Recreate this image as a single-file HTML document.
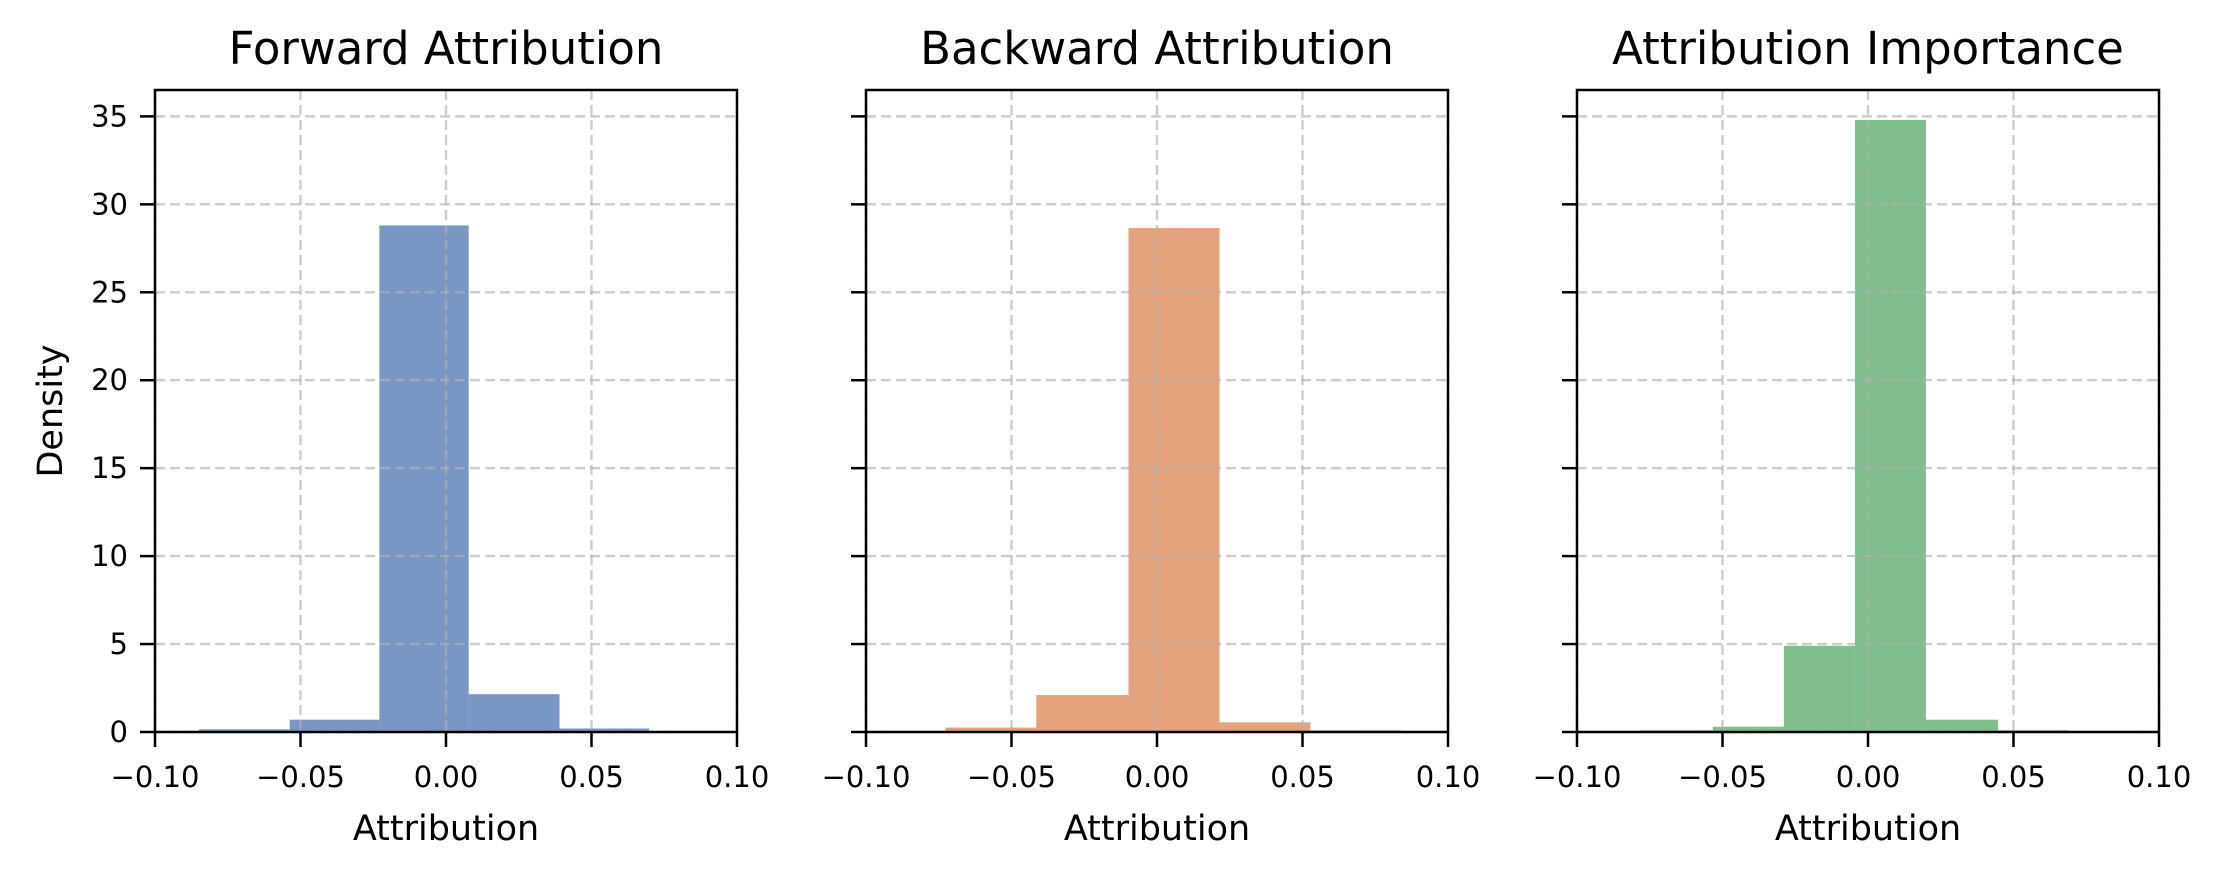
<!DOCTYPE html>
<html><head><meta charset="utf-8"><style>
html,body{margin:0;padding:0;background:#fff;}
svg{display:block;font-family:"DejaVu Sans","Liberation Sans",sans-serif;}
</style></head><body>
<svg id="fig" width="2226" height="877" viewBox="0 0 2226 877" xmlns="http://www.w3.org/2000/svg"></svg>
<script>
const panelTitles = ["Forward Attribution", "Backward Attribution", "Attribution Importance"];
const fwdEdges = [-0.0849, -0.0537, -0.0229, 0.0078, 0.0390, 0.0698];
const fwdHeights = [0.15, 0.7, 28.8, 2.15, 0.2];
const bwdEdges = [-0.0727, -0.0415, -0.0098, 0.0215, 0.0527, 0.0839];
const bwdHeights = [0.25, 2.1, 28.65, 0.55, 0.1];
const impEdges = [-0.0782, -0.0533, -0.0289, -0.0045, 0.0199, 0.0447, 0.0691];
const impHeights = [0.1, 0.3, 4.9, 34.8, 0.7, 0.1];
const xTicks = [-0.10, -0.05, 0.00, 0.05, 0.10];
const xTickLabels = ["\u22120.10", "\u22120.05", "0.00", "0.05", "0.10"];
const yTicks = [0, 5, 10, 15, 20, 25, 30, 35];
const yTickLabels = ["0", "5", "10", "15", "20", "25", "30", "35"];

const NS = "http://www.w3.org/2000/svg";
const svg = document.getElementById("fig");
const panelLefts = [155, 866, 1577];
const PW = 582, TOP = 90, BOT = 732;
const XMIN = -0.1, XMAX = 0.1, YMAX = 36.5;
const series = [
  {edges: fwdEdges, heights: fwdHeights, color: "#7a96c4", key: "forward"},
  {edges: bwdEdges, heights: bwdHeights, color: "#e4a27d", key: "backward"},
  {edges: impEdges, heights: impHeights, color: "#80be8e", key: "importance"}
];
function el(tag, attrs, parent) {
  const e = document.createElementNS(NS, tag);
  for (const k in attrs) e.setAttribute(k, attrs[k]);
  (parent || svg).appendChild(e);
  return e;
}
series.forEach((s, p) => {
  const L = panelLefts[p];
  const xs = v => L + (v - XMIN) / (XMAX - XMIN) * PW;
  const ys = v => BOT - v / YMAX * (BOT - TOP);
  const g = el("g", {});
  
  
  s.heights.forEach((h, i) => {
    const r = el("rect", {x: xs(s.edges[i]), y: ys(h), width: xs(s.edges[i+1]) - xs(s.edges[i]), height: BOT - ys(h), fill: s.color}, g);
    
    
  });
  xTicks.forEach(v => {
    const ln = el("line", {x1: xs(v), x2: xs(v), y1: TOP, y2: BOT, stroke: "#b0b0b0", "stroke-opacity": 0.65, "stroke-width": 2.4, "stroke-dasharray": "10,5"}, g);
    
    
  });
  yTicks.forEach(v => {
    const ln = el("line", {x1: L, x2: L + PW, y1: ys(v), y2: ys(v), stroke: "#b0b0b0", "stroke-opacity": 0.65, "stroke-width": 2.4, "stroke-dasharray": "10,5"}, g);
    
    
  });
  const fr = el("rect", {x: L, y: TOP, width: PW, height: BOT - TOP, fill: "none", stroke: "#000", "stroke-width": 2.5}, g);
  
  
  xTicks.forEach((v, i) => {
    el("line", {x1: xs(v), x2: xs(v), y1: BOT, y2: BOT + 15, stroke: "#000", "stroke-width": 2.5}, g);
    const t = el("text", {x: xs(v), y: 787, "text-anchor": "middle", "font-size": 29, fill: "#000"}, g);
    t.textContent = xTickLabels[i];
    
    
  });
  yTicks.forEach((v, i) => {
    el("line", {x1: L - 15, x2: L, y1: ys(v), y2: ys(v), stroke: "#000", "stroke-width": 2.5}, g);
    if (p === 0) {
      const t = el("text", {x: L - 27, y: ys(v) + 10, "text-anchor": "end", "font-size": 29, fill: "#000"}, g);
      t.textContent = yTickLabels[i];
      
      
    }
  });
  const title = el("text", {x: L + PW / 2, y: 64, "text-anchor": "middle", "font-size": 45, fill: "#000"}, g);
  title.textContent = panelTitles[p];
  
  
  const xl = el("text", {x: L + PW / 2, y: 840, "text-anchor": "middle", "font-size": 35, fill: "#000"}, g);
  xl.textContent = "Attribution";
  
  
});
const yl = el("text", {x: 62, y: 411, "text-anchor": "middle", "font-size": 35, fill: "#000", transform: "rotate(-90 62 411)"});
yl.textContent = "Density";


</script>
</body></html>
